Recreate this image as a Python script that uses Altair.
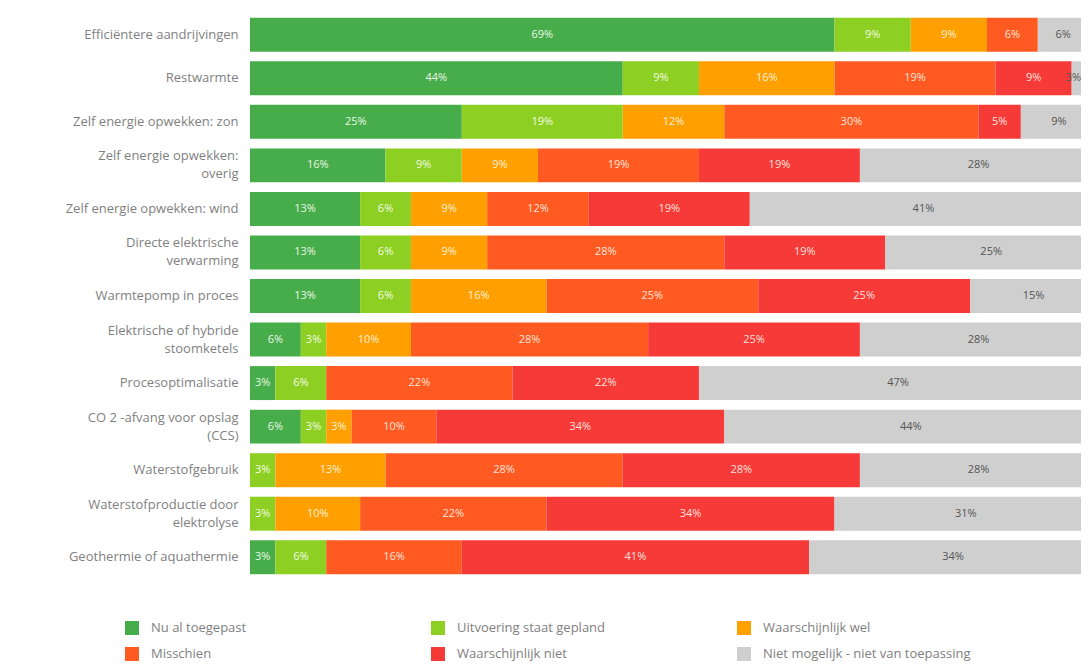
import altair as alt
import pandas as pd

categories = [
    "Efficiëntere aandrijvingen",
    "Restwarmte",
    "Zelf energie opwekken: zon",
    "Zelf energie opwekken:|overig",
    "Zelf energie opwekken: wind",
    "Directe elektrische|verwarming",
    "Warmtepomp in proces",
    "Elektrische of hybride|stoomketels",
    "Procesoptimalisatie",
    "CO 2 -afvang voor opslag|(CCS)",
    "Waterstofgebruik",
    "Waterstofproductie door|elektrolyse",
    "Geothermie of aquathermie",
]

answers = [
    "Nu al toegepast",
    "Uitvoering staat gepland",
    "Waarschijnlijk wel",
    "Misschien",
    "Waarschijnlijk niet",
    "Niet mogelijk - niet van toepassing",
]

colors = ["#47ad4a", "#8dcf23", "#ff9f00", "#ff5a22", "#f53a37", "#cfcfcf"]
text_colors = ["#e9f7e6", "#f2fbe3", "#fff1d6", "#ffe3d8", "#ffe0de", "#555555"]

nu_al_toegepast = [69, 44, 25, 16, 13, 13, 13, 6, 3, 6, 0, 0, 3]
uitvoering_gepland = [9, 9, 19, 9, 6, 6, 6, 3, 6, 3, 3, 3, 6]
waarschijnlijk_wel = [9, 16, 12, 9, 9, 9, 16, 10, 0, 3, 13, 10, 0]
misschien = [6, 19, 30, 19, 12, 28, 25, 28, 22, 10, 28, 22, 16]
waarschijnlijk_niet = [0, 9, 5, 19, 19, 19, 25, 25, 22, 34, 28, 34, 41]
niet_mogelijk = [6, 3, 9, 28, 41, 25, 15, 28, 47, 44, 28, 31, 34]

series = [nu_al_toegepast, uitvoering_gepland, waarschijnlijk_wel,
          misschien, waarschijnlijk_niet, niet_mogelijk]

rows = []
for k, (ans, vals) in enumerate(zip(answers, series)):
    for cat, v in zip(categories, vals):
        rows.append({"cat": cat, "answer": ans, "order": k, "value": v,
                     "label": f"{v}%", "tcol": text_colors[k]})
df = pd.DataFrame(rows)

XMAX = 98.1

base = alt.Chart(df).transform_stack(
    stack="value", as_=["v0", "v1"], groupby=["cat"],
    sort=[alt.SortField("order", "ascending")]
).transform_calculate(mid=f"min((datum.v0 + datum.v1) / 2, {XMAX} - 0.9)")

xscale = alt.Scale(domain=[0, XMAX], nice=False, zero=True)
yscale = alt.Scale(paddingInner=0.22, paddingOuter=0.11)
yaxis = alt.Axis(title=None, domain=False, ticks=False, grid=False,
                 labelExpr="split(datum.label, '|')",
                 labelFontSize=13, labelColor="#7f7f7f",
                 labelFont="Open Sans", labelPadding=12,
                 labelLimit=240, labelLineHeight=18,
                 labelOffset={"condition": {"test": "indexof(datum.value, '|') >= 0",
                                            "value": -9},
                              "value": 0})

bars = base.mark_bar(clip=True).encode(
    x=alt.X("v0:Q", scale=xscale, axis=None),
    x2="v1:Q",
    y=alt.Y("cat:N", sort=categories, scale=yscale, axis=yaxis),
    color=alt.Color("answer:N", sort=answers,
                    scale=alt.Scale(domain=answers, range=colors),
                    legend=alt.Legend(
                        title=None, orient="none", legendX=-125, legendY=608,
                        direction="horizontal", columns=3, gridAlign="all",
                        columnPadding=72, rowPadding=12, padding=0,
                        symbolType="square", symbolSize=196,
                        symbolStrokeWidth=0, labelFontSize=13,
                        labelColor="#808080", labelFont="Open Sans",
                        labelLimit=400, labelOffset=12)),
)

texts = base.transform_filter("datum.value > 0").mark_text(
    clip=True, fontSize=11, font="Open Sans", align="center", baseline="middle"
).encode(
    x=alt.X("mid:Q", scale=xscale, axis=None),
    y=alt.Y("cat:N", sort=categories, scale=yscale, axis=yaxis),
    text="label:N",
    color=alt.Color("tcol:N", scale=None, legend=None),
)

chart = alt.layer(bars, texts).properties(
    width=831, height=566,
    background="white",
    autosize=alt.AutoSizeParams(type="none"),
    padding={"left": 242, "top": 5, "right": 0, "bottom": 83},
).configure_view(
    strokeWidth=0, strokeOpacity=0
).configure_axis(
    grid=False
)

chart.save("out.html", embed_options={"renderer": "svg", "actions": False})
